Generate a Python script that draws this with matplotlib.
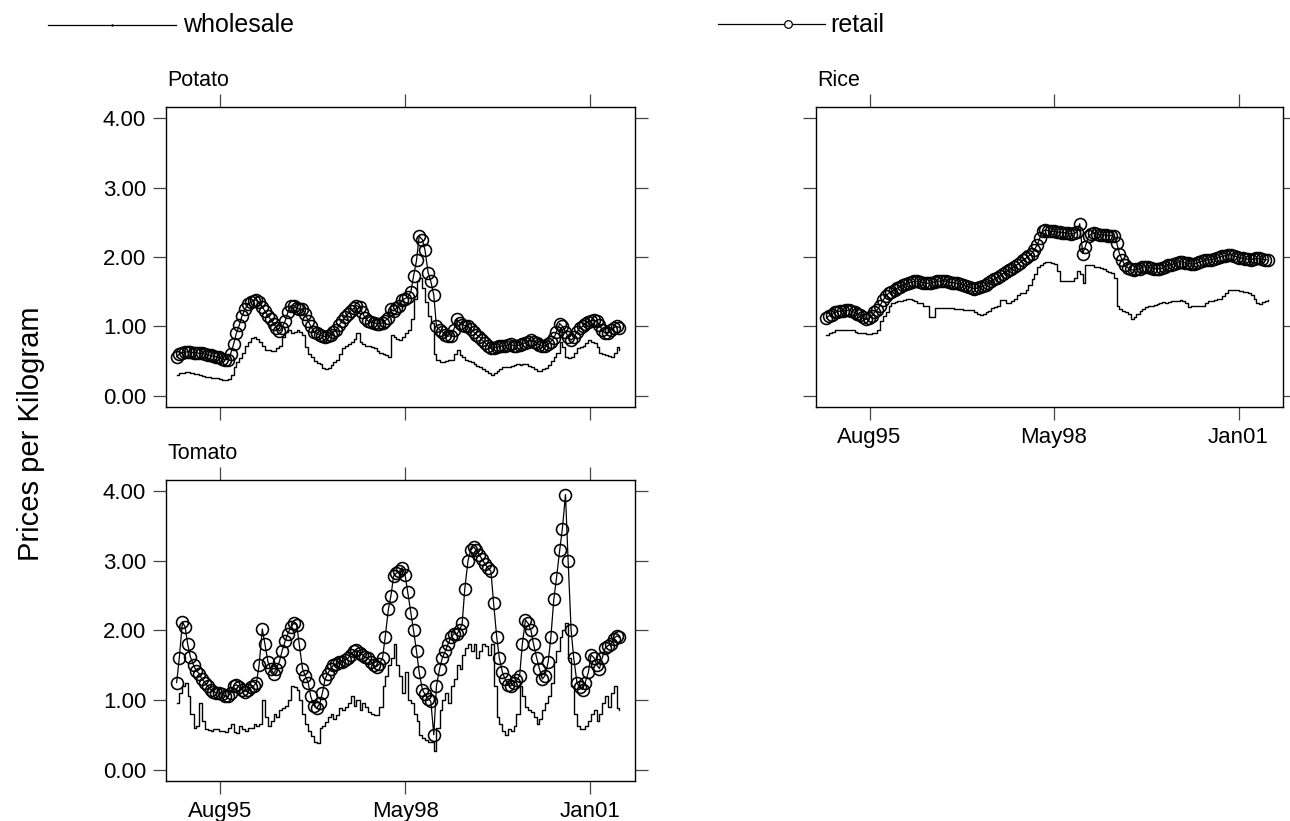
import numpy as np
import pandas as pd
import matplotlib
matplotlib.use("Agg")
import matplotlib.pyplot as plt
import matplotlib.dates as mdates
from matplotlib.lines import Line2D

plt.rcParams['font.family'] = ['Liberation Sans', 'DejaVu Sans']

# ---------------- data (semi-monthly readings: 1st and 15th, Jan 1995 .. Jun 2001) ----
dates = pd.date_range('1995-01-01', periods=156, freq='SMS')

potato_wholesale = [
    0.30, 0.32, 0.33, 0.34, 0.34, 0.32, 0.31, 0.31, 0.30, 0.28, 0.27, 0.27,
    0.26, 0.25, 0.25, 0.24, 0.23, 0.23, 0.24, 0.30, 0.42, 0.48, 0.54, 0.62,
    0.72, 0.78, 0.83, 0.84, 0.82, 0.78, 0.72, 0.66, 0.66, 0.64, 0.64, 0.68,
    0.72, 0.85, 0.92, 0.94, 0.90, 0.92, 0.95, 0.92, 0.88, 0.70, 0.60, 0.55,
    0.50, 0.47, 0.45, 0.40, 0.38, 0.40, 0.44, 0.48, 0.52, 0.60, 0.68, 0.72,
    0.74, 0.78, 0.82, 0.90, 0.78, 0.74, 0.72, 0.72, 0.70, 0.68, 0.64, 0.62,
    0.60, 0.58, 0.56, 0.88, 0.85, 0.82, 0.80, 0.84, 0.90, 0.95, 1.10, 1.40,
    1.65, 1.70, 1.55, 1.35, 1.15, 1.05, 0.60, 0.52, 0.49, 0.48, 0.50, 0.51,
    0.52, 0.60, 0.66, 0.58, 0.55, 0.52, 0.50, 0.48, 0.45, 0.43, 0.42, 0.39,
    0.36, 0.33, 0.30, 0.33, 0.36, 0.39, 0.42, 0.41, 0.42, 0.43, 0.44, 0.45,
    0.44, 0.46, 0.45, 0.43, 0.42, 0.38, 0.36, 0.35, 0.38, 0.40, 0.44, 0.50,
    0.55, 0.62, 0.78, 0.70, 0.56, 0.54, 0.56, 0.62, 0.68, 0.70, 0.72, 0.76,
    0.80, 0.78, 0.76, 0.70, 0.62, 0.60, 0.58, 0.57, 0.56, 0.62, 0.70, 0.66]
potato_retail = [
    0.56, 0.60, 0.62, 0.63, 0.63, 0.63, 0.62, 0.62, 0.61, 0.61, 0.60, 0.59,
    0.58, 0.57, 0.56, 0.55, 0.53, 0.52, 0.52, 0.60, 0.75, 0.90, 1.02, 1.15,
    1.25, 1.32, 1.35, 1.37, 1.38, 1.35, 1.28, 1.22, 1.15, 1.10, 1.04, 0.98,
    0.93, 0.98, 1.08, 1.20, 1.30, 1.30, 1.26, 1.25, 1.25, 1.18, 1.08, 1.00,
    0.92, 0.90, 0.88, 0.86, 0.85, 0.86, 0.88, 0.92, 0.95, 1.02, 1.08, 1.13,
    1.18, 1.22, 1.26, 1.30, 1.28, 1.20, 1.12, 1.08, 1.06, 1.05, 1.04, 1.04,
    1.05, 1.08, 1.12, 1.25, 1.22, 1.26, 1.30, 1.38, 1.40, 1.42, 1.50, 1.72,
    1.95, 2.30, 2.25, 2.10, 1.77, 1.65, 1.45, 1.00, 0.95, 0.92, 0.88, 0.86,
    0.86, 0.95, 1.10, 1.05, 1.02, 1.01, 1.00, 0.96, 0.92, 0.88, 0.85, 0.80,
    0.76, 0.72, 0.68, 0.69, 0.70, 0.71, 0.72, 0.72, 0.73, 0.74, 0.72, 0.72,
    0.73, 0.75, 0.76, 0.78, 0.80, 0.78, 0.76, 0.73, 0.71, 0.72, 0.74, 0.78,
    0.83, 0.92, 1.04, 1.00, 0.92, 0.85, 0.80, 0.84, 0.92, 0.97, 1.00, 1.04,
    1.06, 1.08, 1.09, 1.07, 1.02, 0.95, 0.90, 0.91, 0.95, 0.98, 1.00, 0.98]

tomato_wholesale = [
    0.95, 1.10, 1.20, 1.25, 1.05, 0.80, 0.60, 0.62, 0.95, 0.70, 0.58, 0.57,
    0.56, 0.58, 0.58, 0.55, 0.55, 0.54, 0.60, 0.66, 0.54, 0.52, 0.62, 0.58,
    0.56, 0.60, 0.60, 0.66, 0.62, 0.65, 1.00, 0.75, 0.62, 0.70, 0.80, 0.75,
    0.85, 0.88, 0.92, 1.00, 1.20, 1.18, 1.15, 1.00, 0.80, 0.65, 0.55, 0.48,
    0.40, 0.38, 0.60, 0.62, 0.68, 0.75, 0.80, 0.72, 0.78, 0.88, 0.85, 0.90,
    0.95, 1.05, 0.92, 1.00, 0.85, 0.95, 0.90, 0.82, 0.80, 0.78, 0.78, 0.90,
    1.20, 1.35, 1.50, 1.60, 1.80, 1.50, 1.35, 1.10, 1.40, 1.00, 0.95, 0.80,
    0.70, 0.50, 0.45, 0.42, 0.40, 0.40, 0.26, 0.60, 0.85, 1.00, 1.10, 0.95,
    1.20, 1.30, 1.50, 1.45, 1.65, 1.75, 1.80, 1.70, 1.80, 1.60, 1.70, 1.80,
    1.78, 1.65, 1.80, 1.20, 0.75, 0.65, 0.55, 0.50, 0.58, 0.55, 0.62, 0.80,
    1.20, 1.05, 0.90, 0.85, 0.82, 0.75, 0.65, 0.72, 0.85, 0.95, 1.05, 1.25,
    1.55, 1.70, 1.90, 2.00, 2.10, 1.60, 1.20, 0.80, 0.62, 0.58, 0.58, 0.62,
    0.70, 0.80, 0.85, 0.70, 0.80, 0.95, 1.05, 0.90, 1.10, 1.20, 0.88, 0.85]
tomato_retail = [
    1.25, 1.60, 2.12, 2.05, 1.80, 1.62, 1.50, 1.42, 1.38, 1.30, 1.25, 1.20,
    1.15, 1.12, 1.10, 1.10, 1.08, 1.06, 1.05, 1.10, 1.20, 1.22, 1.18, 1.15,
    1.12, 1.15, 1.18, 1.20, 1.25, 1.50, 2.02, 1.80, 1.55, 1.45, 1.38, 1.45,
    1.55, 1.70, 1.85, 1.95, 2.05, 2.10, 2.08, 1.80, 1.45, 1.35, 1.25, 1.05,
    0.92, 0.88, 0.95, 1.10, 1.30, 1.38, 1.45, 1.50, 1.52, 1.54, 1.55, 1.58,
    1.60, 1.65, 1.70, 1.72, 1.68, 1.65, 1.62, 1.60, 1.55, 1.50, 1.48, 1.52,
    1.60, 1.90, 2.30, 2.50, 2.78, 2.82, 2.85, 2.90, 2.80, 2.55, 2.25, 2.00,
    1.70, 1.40, 1.15, 1.08, 1.02, 0.98, 0.50, 1.20, 1.45, 1.60, 1.70, 1.80,
    1.90, 1.95, 1.95, 2.00, 2.10, 2.60, 3.00, 3.15, 3.20, 3.15, 3.08, 3.02,
    2.95, 2.90, 2.85, 2.40, 1.90, 1.60, 1.40, 1.30, 1.22, 1.20, 1.25, 1.28,
    1.35, 1.80, 2.15, 2.10, 2.00, 1.80, 1.60, 1.45, 1.30, 1.35, 1.55, 1.90,
    2.45, 2.75, 3.15, 3.45, 3.95, 3.00, 2.00, 1.60, 1.25, 1.18, 1.15, 1.25,
    1.40, 1.65, 1.60, 1.50, 1.45, 1.60, 1.75, 1.78, 1.80, 1.88, 1.92, 1.90]

rice_wholesale = [
    0.87, 0.90, 0.92, 0.94, 0.95, 0.95, 0.94, 0.94, 0.95, 0.95, 0.92, 0.90,
    0.90, 0.90, 0.89, 0.89, 0.90, 0.90, 0.95, 1.08, 1.15, 1.20, 1.30, 1.33,
    1.35, 1.36, 1.37, 1.38, 1.40, 1.39, 1.38, 1.36, 1.33, 1.33, 1.30, 1.30,
    1.14, 1.14, 1.26, 1.27, 1.27, 1.26, 1.26, 1.26, 1.26, 1.25, 1.25, 1.25,
    1.24, 1.24, 1.23, 1.23, 1.20, 1.18, 1.16, 1.18, 1.20, 1.22, 1.26, 1.28,
    1.30, 1.38, 1.38, 1.33, 1.33, 1.36, 1.40, 1.45, 1.48, 1.48, 1.52, 1.60,
    1.68, 1.75, 1.85, 1.88, 1.92, 1.93, 1.93, 1.92, 1.90, 1.80, 1.66, 1.65,
    1.65, 1.65, 1.66, 1.70, 1.80, 1.75, 1.62, 1.88, 1.89, 1.88, 1.86, 1.85,
    1.84, 1.83, 1.80, 1.79, 1.77, 1.70, 1.30, 1.25, 1.22, 1.20, 1.18, 1.10,
    1.14, 1.18, 1.22, 1.25, 1.28, 1.29, 1.30, 1.31, 1.32, 1.33, 1.35, 1.34,
    1.35, 1.36, 1.36, 1.37, 1.38, 1.36, 1.34, 1.28, 1.30, 1.30, 1.30, 1.30,
    1.30, 1.33, 1.36, 1.37, 1.38, 1.39, 1.40, 1.44, 1.48, 1.52, 1.53, 1.53,
    1.52, 1.51, 1.50, 1.49, 1.48, 1.45, 1.40, 1.33, 1.32, 1.35, 1.37, 1.38]
rice_retail = [
    1.12, 1.15, 1.17, 1.20, 1.21, 1.22, 1.22, 1.23, 1.23, 1.22, 1.20, 1.18,
    1.16, 1.13, 1.10, 1.12, 1.15, 1.20, 1.24, 1.30, 1.38, 1.44, 1.48, 1.50,
    1.52, 1.55, 1.57, 1.59, 1.61, 1.63, 1.64, 1.65, 1.65, 1.64, 1.63, 1.62,
    1.62, 1.63, 1.64, 1.65, 1.65, 1.66, 1.65, 1.64, 1.63, 1.63, 1.62, 1.61,
    1.60, 1.58, 1.57, 1.55, 1.54, 1.55, 1.56, 1.58, 1.60, 1.62, 1.65, 1.68,
    1.70, 1.73, 1.76, 1.78, 1.81, 1.83, 1.86, 1.89, 1.92, 1.95, 1.98, 2.01,
    2.05, 2.10, 2.18, 2.28, 2.37, 2.39, 2.38, 2.37, 2.37, 2.36, 2.36, 2.35,
    2.35, 2.34, 2.33, 2.34, 2.36, 2.48, 2.05, 2.15, 2.30, 2.33, 2.34, 2.33,
    2.32, 2.32, 2.32, 2.31, 2.31, 2.30, 2.20, 2.05, 1.95, 1.88, 1.84, 1.82,
    1.81, 1.82, 1.83, 1.85, 1.86, 1.85, 1.84, 1.83, 1.83, 1.83, 1.84, 1.86,
    1.88, 1.89, 1.90, 1.92, 1.93, 1.93, 1.92, 1.91, 1.90, 1.90, 1.91, 1.93,
    1.94, 1.95, 1.96, 1.96, 1.97, 1.99, 2.00, 2.01, 2.02, 2.03, 2.03, 2.02,
    2.00, 1.99, 1.98, 1.97, 1.97, 1.96, 1.97, 1.98, 1.98, 1.97, 1.96, 1.96]

panels = ['Potato', 'Rice', 'Tomato']
series = {
    'Potato': (potato_wholesale, potato_retail),
    'Rice': (rice_wholesale, rice_retail),
    'Tomato': (tomato_wholesale, tomato_retail),
}
legend_labels = ['wholesale', 'retail']
tick_dates = ['1995-08-20', '1998-05-01', '2001-01-10']
tick_labels = ['Aug95', 'May98', 'Jan01']
y_ticks = [0, 1, 2, 3, 4]
y_tick_labels = ['0.00', '1.00', '2.00', '3.00', '4.00']

# ---------------- figure ----------------
W, H = 1290, 821
fig = plt.figure(figsize=(W / 100, H / 100), dpi=100)

def px_axes(l, t, r, b):
    return fig.add_axes([l / W, 1 - b / H, (r - l) / W, (b - t) / H])

boxes = {
    'Potato': (166.3, 107.3, 635.0, 406.7),
    'Tomato': (166.3, 480.0, 635.0, 780.7),
    'Rice': (816.0, 107.3, 1283.3, 406.7),
}
xlim = (mdates.date2num(pd.Timestamp('1994-11-07')),
        mdates.date2num(pd.Timestamp('2001-09-06')))
tick_pos = [mdates.date2num(pd.Timestamp(d)) for d in tick_dates]

for name in panels:
    ax = px_axes(*boxes[name])
    wh, rt = series[name]
    ax.plot(dates, wh, color='black', lw=1.0, drawstyle='steps-post')
    ax.plot(dates, rt, color='black', lw=0.9, marker='o', ms=8.6,
            mfc='none', mec='black', mew=1.15)
    ax.set_xlim(xlim)
    ax.set_ylim(-0.16, 4.16)
    ax.set_xticks(tick_pos)
    ax.set_xticklabels(tick_labels)
    ax.set_yticks(y_ticks)
    ax.set_yticklabels(y_tick_labels)
    for s in ax.spines.values():
        s.set_linewidth(1.0)
        s.set_color('black')
    show_left = name in ('Potato', 'Tomato')
    show_bottom = name in ('Tomato', 'Rice')
    ax.tick_params(axis='both', which='both', direction='out', length=9.5,
                   width=0.9, color='#444444', labelsize=16, pad=5,
                   top=True, right=True, left=True, bottom=True,
                   labeltop=False, labelright=False,
                   labelleft=show_left, labelbottom=show_bottom)
    tx = boxes[name][0] + 1
    ty = boxes[name][1] - 21
    fig.text(tx / W, 1 - ty / H, name, fontsize=15.5, ha='left', va='baseline')

# y label
fig.text(31 / W, 1 - 434 / H, 'Prices per Kilogram', rotation=90,
         fontsize=21, ha='center', va='center')

# legend
ly = 1 - 25 / H
fig.add_artist(Line2D([48 / W, 176 / W], [ly, ly], color='black', lw=0.9,
                      transform=fig.transFigure))
fig.add_artist(Line2D([112 / W], [ly], color='black', marker='.', ms=1.5,
                      transform=fig.transFigure))
fig.text(183 / W, ly, legend_labels[0], fontsize=18, ha='left', va='center')
ly2 = 1 - 24 / H
fig.add_artist(Line2D([718 / W, 825 / W], [ly2, ly2], color='black', lw=0.9,
                      transform=fig.transFigure))
fig.add_artist(Line2D([788 / W], [ly2], color='black', marker='o', ms=5.5,
                      mfc='white', mec='black', mew=0.9,
                      transform=fig.transFigure))
fig.text(830 / W, ly, legend_labels[1], fontsize=18, ha='left', va='center')

fig.savefig('out.png', dpi=100)
